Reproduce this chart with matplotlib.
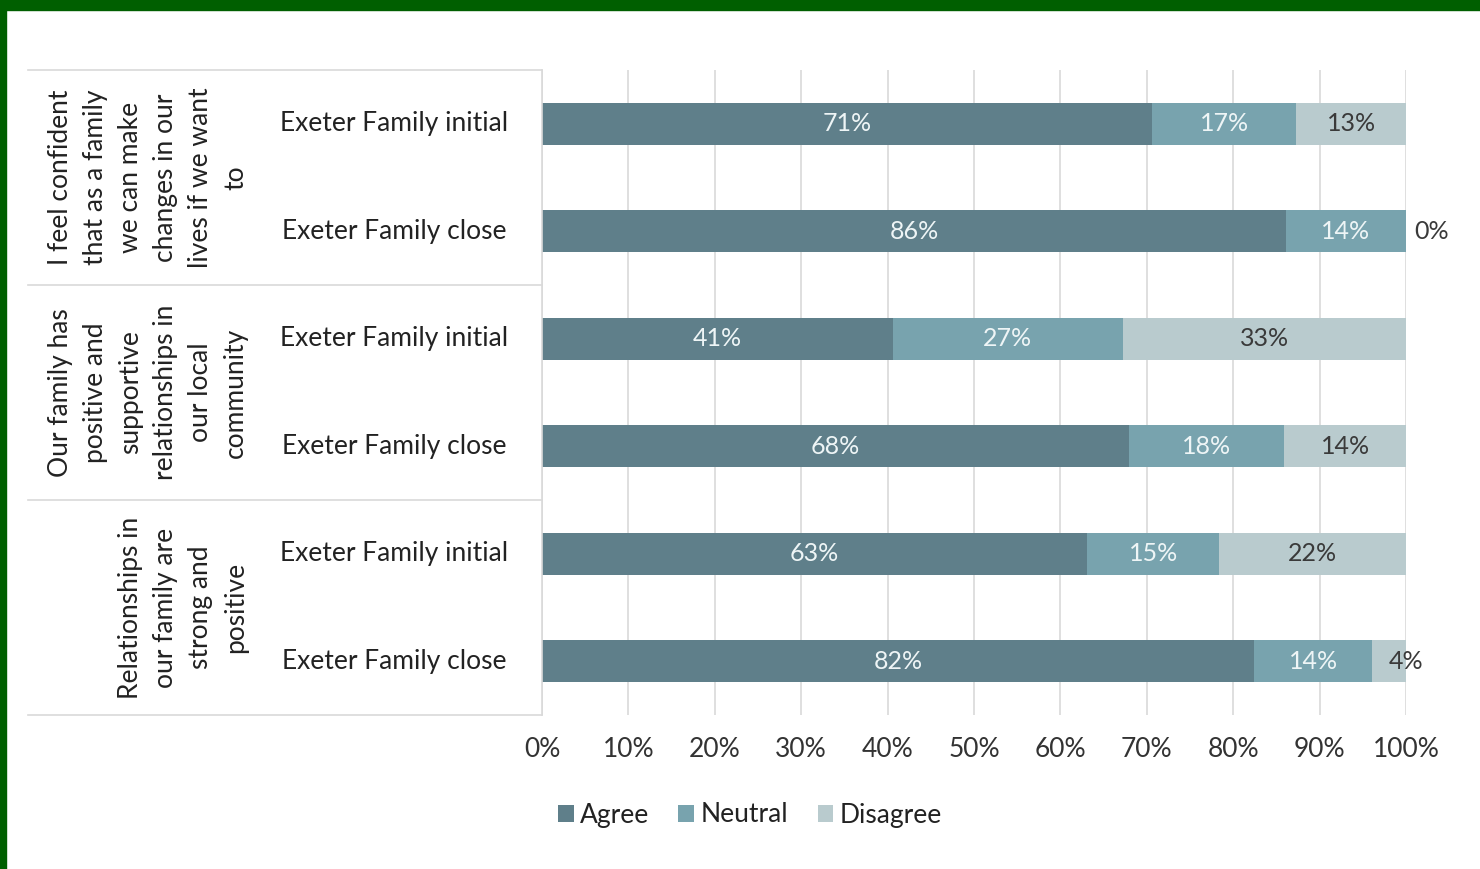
import matplotlib
matplotlib.use('Agg')
import matplotlib.pyplot as plt
from matplotlib.patches import Rectangle
import numpy as np

plt.rcParams['font.family'] = ['Lato', 'DejaVu Sans']

# survey answers, percent of families
rows = ['Exeter Family initial', 'Exeter Family close'] * 3
groups = ['I feel confident\nthat as a family\nwe can make\nchanges in our\nlives if we want\nto',
          'Our family has\npositive and\nsupportive\nrelationships in\nour local\ncommunity',
          'Relationships in\nour family are\nstrong and\npositive']
agree = [70.6, 86.1, 40.6, 67.9, 63.1, 82.4]
neutral = [16.7, 13.9, 26.6, 18.0, 15.3, 13.7]
disagree = [12.7, 0.0, 32.8, 14.1, 21.6, 3.9]
series = ['Agree', 'Neutral', 'Disagree']
colors = ['#5f7f8a', '#78a3ae', '#b9cbce']
text_colors = ['#eef5f6', '#eef5f6', '#3a3a3a']

fig = plt.figure(figsize=(14.8, 8.69), dpi=100)
ax = fig.add_axes([542/1480, 1-715/869, 864/1480, 645/869])

y = np.arange(len(rows))
left = np.zeros(len(rows))
for vals, name, c, tc in zip([agree, neutral, disagree], series, colors, text_colors):
    vals = np.array(vals)
    ax.barh(y, vals, left=left, height=0.39, color=c, label=name, zorder=2)
    for i, v in enumerate(vals):
        if v == 0:
            ax.text(left[i] + 0.9, i, f'{v:.0f}%', ha='left', va='center',
                    fontsize=18, color='#3a3a3a', zorder=3)
        elif v < 6:
            # too narrow for the label, centre it on the bar end
            ax.text(left[i] + v, i, f'{v:.0f}%', ha='center', va='center',
                    fontsize=18, color='#3a3a3a', zorder=3)
        else:
            ax.text(left[i] + v/2, i, f'{v:.0f}%', ha='center', va='center',
                    fontsize=18, color=tc, zorder=3)
    left += vals

ax.set_xlim(0, 100)
ax.set_ylim(5.5, -0.5)
ax.set_xticks(np.arange(0, 101, 10))
ax.set_xticklabels([f'{t}%' for t in range(0, 101, 10)], fontsize=19, color='#333333')
ax.set_yticks([])
ax.tick_params(axis='x', length=0, pad=16)
ax.grid(axis='x', color='#d9d9d9', linewidth=1.2, zorder=0)
for s in ['top', 'right', 'bottom']:
    ax.spines[s].set_visible(False)
ax.spines['left'].set_color('#d9d9d9')
ax.spines['left'].set_linewidth(1.2)

# category table on the left
tr = ax.get_yaxis_transform()
x0 = (28 - 542) / 864
for yy in [-0.5, 1.5, 3.5, 5.5]:
    ax.plot([x0, 0], [yy, yy], color='#d9d9d9', lw=1.2, transform=tr, clip_on=False)
for i, r in enumerate(rows):
    ax.text((394 - 542) / 864, i, r, transform=tr, ha='center', va='center',
            fontsize=19, color='#222222')
for g, lab in enumerate(groups):
    ax.text((248 - 542) / 864, 2*g + 0.5, lab, transform=tr, rotation=90,
            ha='right', va='center', multialignment='center',
            fontsize=19, color='#222222', linespacing=1.5)

leg = fig.legend(loc='center', bbox_to_anchor=(750/1480, 1-815/869), ncol=3,
                 frameon=False, fontsize=19, handlelength=0.6, handleheight=0.6,
                 handletextpad=0.25, columnspacing=1.1)
for t in leg.get_texts():
    t.set_color('#222222')

# green frame
fig.patches.append(Rectangle((0, 1-10/869), 1, 10/869, transform=fig.transFigure,
                             color='#005f00', zorder=10))
fig.patches.append(Rectangle((0, 0), 6/1480, 1, transform=fig.transFigure,
                             color='#005f00', zorder=10))

fig.savefig('out.png', dpi=100)
